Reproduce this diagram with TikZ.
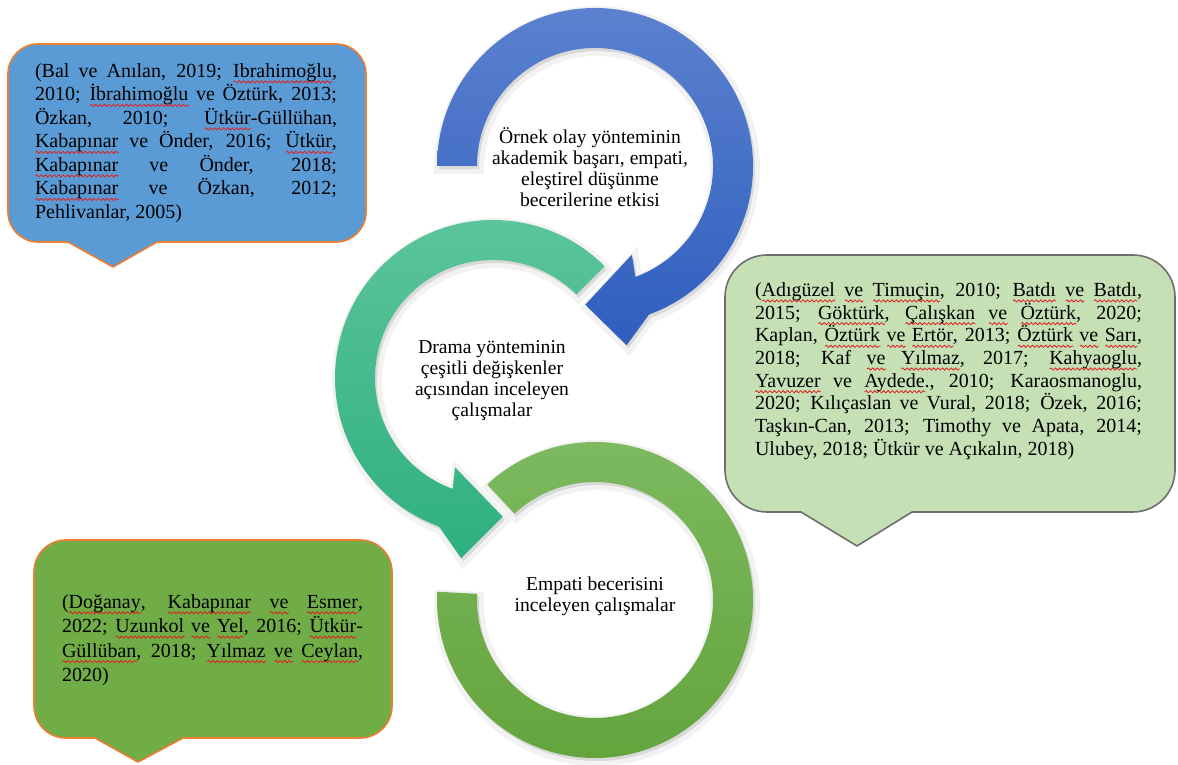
\documentclass[tikz,border=0pt]{standalone}
\usepackage{fontspec}
\setmainfont{Liberation Serif}
\usetikzlibrary{decorations.pathmorphing}
\definecolor{squig}{HTML}{E02020}
\definecolor{boxblue}{HTML}{5B9BD5}
\definecolor{boxgreen}{HTML}{70AD47}
\definecolor{boxlight}{HTML}{C5E0B4}
\definecolor{boxorange}{HTML}{ED7D31}
\definecolor{boxgray}{HTML}{6E6E6E}
\definecolor{blueA}{HTML}{5B81CF}
\definecolor{blueB}{HTML}{2F5EBE}
\definecolor{tealA}{HTML}{5DC59B}
\definecolor{tealB}{HTML}{2EB07F}
\definecolor{grnA}{HTML}{7EBA61}
\definecolor{grnB}{HTML}{63A33B}
\newcommand\sq[1]{\setbox0\hbox{#1}\edef\sqw{\the\wd0}\leavevmode\rlap{\tikz[baseline=0pt,x=1pt,y=1pt]\draw[squig,line width=0.4pt,decorate,decoration={snake,amplitude=0.55pt,segment length=2.2pt}] (0pt,-2.3pt) -- (\sqw,-2.3pt);}\mbox{#1}}
\hbadness=10000
\newcommand\GreenArcPath{(133:158) arc[start angle=133,end angle=-183,radius=158] -- (-183:118) arc[start angle=-183,end angle=133,radius=118] -- cycle}
\newcommand\TealArcPath{(45:158) arc[start angle=45,end angle=250,radius=158] -- (260:183) -- (274:139) -- (247:97) -- (250:118) arc[start angle=250,end angle=45,radius=118] -- cycle}
\newcommand\BlueArcPath{(180:158) arc[start angle=180,end angle=-70,radius=158] -- (-80:182) -- (-94:139) -- (-67.4:96) -- (-70:118) arc[start angle=-70,end angle=180,radius=118] -- cycle}
\tikzset{
  reftext/.style={inner sep=0pt, align=justify, font=\fontsize{10}{11.75}\selectfont},
  arctext/.style={inner sep=0pt, align=center, font=\fontsize{9.8}{10.5}\selectfont},
  callout/.style={line width=0.8pt, line join=round},
  shadowA/.style={fill=black, opacity=0.10},
  shadowB/.style={draw=black, opacity=0.05, line width=5},
}
\begin{document}
\begin{tikzpicture}[x=0.5pt,y=0.5pt]
\useasboundingbox (0,0) rectangle (1178,765);
\fill[white] (0,0) rectangle (1178,765);

% ---- circular arrows ----
\begin{scope}[shift={(595,165)}]
  \path[shadowB, shift={(2,-3)}] \GreenArcPath;
  \path[shadowA, shift={(2,-3)}] \GreenArcPath;
  \shade[top color=grnA, bottom color=grnB] \GreenArcPath;
\end{scope}
\begin{scope}[shift={(493,387)}]
  \path[shadowB, shift={(2,-3)}] \TealArcPath;
  \path[shadowA, shift={(2,-3)}] \TealArcPath;
  \shade[top color=tealA, bottom color=tealB] \TealArcPath;
\end{scope}
\begin{scope}[shift={(595,599)}]
  \path[shadowB, shift={(2,-3)}] \BlueArcPath;
  \path[shadowA, shift={(2,-3)}] \BlueArcPath;
  \shade[top color=blueA, bottom color=blueB] \BlueArcPath;
\end{scope}

\node[arctext] (t1) at (590,598) {Örnek olay yönteminin\\akademik başarı, empati,\\eleştirel düşünme\\becerilerine etkisi};
\node[arctext] (t2) at (492,384) {Drama yönteminin\\çeşitli değişkenler\\açısından inceleyen\\çalışmalar};
\node[arctext] (t3) at (595,169) {Empati becerisini\\inceleyen çalışmalar};

% ---- callouts ----
\draw[callout, fill=boxblue, draw=boxorange] (38,721) -- (336,721) arc[start angle=90,end angle=0,radius=30] -- (366,553) arc[start angle=0,end angle=-90,radius=30] -- (157,523) -- (113,498) -- (68,523) -- (38,523) arc[start angle=270,end angle=180,radius=30] -- (8,691) arc[start angle=180,end angle=90,radius=30] -- cycle;

\draw[callout, fill=boxgreen, draw=boxorange] (66,225) -- (360,225) arc[start angle=90,end angle=0,radius=32] -- (392,59) arc[start angle=0,end angle=-90,radius=32] -- (183,27) -- (138,3) -- (95,27) -- (66,27) arc[start angle=270,end angle=180,radius=32] -- (34,193) arc[start angle=180,end angle=90,radius=32] -- cycle;

\draw[callout, fill=boxlight, draw=boxgray] (767,510) -- (1133,510) arc[start angle=90,end angle=0,radius=42] -- (1175,295) arc[start angle=0,end angle=-90,radius=42] -- (912,253) -- (857,219) -- (801,253) -- (767,253) arc[start angle=270,end angle=180,radius=42] -- (725,468) arc[start angle=180,end angle=90,radius=42] -- cycle;

\node[reftext, text width=151pt] (lt) at (186,622) {(Bal ve Anılan, 2019; \sq{Ibrahimoğlu},\linebreak
2010; \sq{İbrahimoğlu} ve Öztürk, 2013;\linebreak
Özkan, 2010; \sq{Ütkür}-Güllühan,\linebreak
\sq{Kabapınar} ve Önder, 2016; \sq{Ütkür},\linebreak
\sq{Kabapınar} ve Önder, 2018;\linebreak
\sq{Kabapınar} ve Özkan, 2012;\linebreak
Pehlivanlar, 2005)};

\node[reftext, text width=193.5pt, font=\fontsize{10}{11.35}\selectfont] (rt) at (948.5,394) {(\sq{Adıgüzel} \sq{ve} \sq{Timuçin}, 2010; \sq{Batdı} \sq{ve} \sq{Batdı},\linebreak
2015; \sq{Göktürk}, \sq{Çalışkan} \sq{ve} \sq{Öztürk}, 2020;\linebreak
Kaplan, \sq{Öztürk} \sq{ve} \sq{Ertör}, 2013; \sq{Öztürk} \sq{ve} \sq{Sarı},\linebreak
2018; Kaf \sq{ve} \sq{Yılmaz}, 2017; \sq{Kahyaoglu},\linebreak
\sq{Yavuzer} ve \sq{Aydede}., 2010; Karaosmanoglu,\linebreak
2020; Kılıçaslan ve Vural, 2018; Özek, 2016;\linebreak
Taşkın-Can, 2013; Timothy ve Apata, 2014;\linebreak
Ulubey, 2018; Ütkür ve Açıkalın, 2018)};

\node[reftext, text width=150.5pt, font=\fontsize{10}{12.2}\selectfont] (bt) at (212.5,125) {(\sq{Doğanay}, \sq{Kabapınar} \sq{ve} \sq{Esmer},\linebreak
2022; \sq{Uzunkol} \sq{ve} \sq{Yel}, 2016; \sq{Ütkür}-\linebreak
\sq{Güllüban}, 2018; \sq{Yılmaz} \sq{ve} \sq{Ceylan},\linebreak
2020)};
\end{tikzpicture}
\end{document}
